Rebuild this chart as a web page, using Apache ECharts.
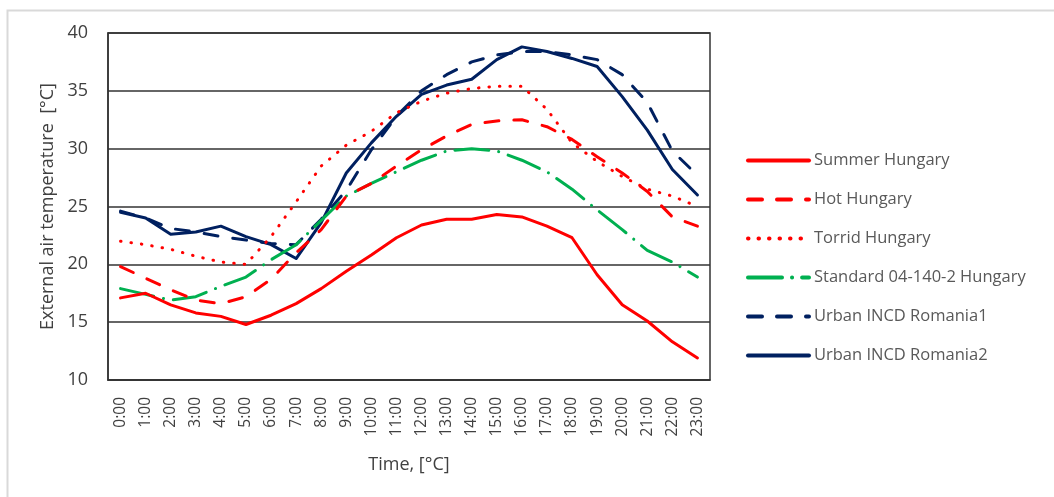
<!DOCTYPE html>
<html>
<head>
<meta charset="utf-8">
<script src="https://cdn.jsdelivr.net/npm/echarts@6/dist/echarts.min.js"></script>
<style>
html,body{margin:0;padding:0;background:#fff;}
#c{width:1054px;height:497px;}
</style>
</head>
<body>
<div id="c"></div>
<script>
var hours = ['0:00','1:00','2:00','3:00','4:00','5:00','6:00','7:00','8:00','9:00','10:00','11:00','12:00','13:00','14:00','15:00','16:00','17:00','18:00','19:00','20:00','21:00','22:00','23:00'];
var summerHungary = [17.1,17.5,16.5,15.8,15.5,14.8,15.6,16.6,17.9,19.4,20.8,22.3,23.4,23.9,23.9,24.3,24.1,23.3,22.3,19.1,16.5,15.1,13.3,11.9];
var hotHungary = [19.8,18.8,17.8,16.9,16.6,17.2,18.7,21.0,23.0,25.9,27.0,28.5,29.9,31.1,32.1,32.4,32.5,31.9,30.8,29.3,27.9,26.3,24.1,23.3];
var torridHungary = [22.0,21.7,21.3,20.7,20.2,20.0,22.4,25.4,28.5,30.3,31.5,33.1,34.1,34.8,35.2,35.4,35.4,33.4,30.5,28.9,27.6,26.5,25.9,25.0];
var standardHungary = [17.9,17.4,16.9,17.2,18.1,18.9,20.4,21.7,23.8,25.9,27.0,28.0,29.0,29.8,30.0,29.8,29.0,28.0,26.5,24.7,23.0,21.2,20.2,18.9];
var urbanRomania1 = [24.6,24.0,23.1,22.8,22.4,22.1,21.8,21.7,23.9,26.4,29.9,32.8,35.0,36.4,37.5,38.1,38.4,38.4,38.1,37.7,36.4,34.0,29.8,27.7];
var urbanRomania2 = [24.5,24.0,22.6,22.8,23.3,22.4,21.7,20.5,23.6,27.9,30.5,32.8,34.7,35.5,36.0,37.7,38.8,38.4,37.8,37.1,34.5,31.6,28.2,26.0];

var seriesNames = ['Summer Hungary','Hot Hungary','Torrid Hungary','Standard 04-140-2 Hungary','Urban INCD Romania1','Urban INCD Romania2'];
var seriesData = [summerHungary, hotHungary, torridHungary, standardHungary, urbanRomania1, urbanRomania2];
var seriesColors = ['#ff0000','#ff0000','#ff0000','#00b050','#002060','#002060'];
var seriesDash = ['solid',[14,15],[0.5,10],[34,10,0.1,10],[14,15],'solid'];

var font = '"Open Sans", Lato, sans-serif';
var chart = echarts.init(document.getElementById('c'), null, {renderer:'canvas'});
var series = seriesNames.map(function(n, i){
  return {
    name: n,
    type: 'line',
    data: seriesData[i],
    symbol: 'none',
    smooth: false,
    lineStyle: {color: seriesColors[i], width: 3, type: seriesDash[i], cap: 'round', join: 'round'},
    itemStyle: {color: seriesColors[i]},
    z: 10 - i
  };
});
chart.setOption({
  animation: false,
  textStyle: {fontFamily: font},
  graphic: [{
    type: 'rect', left: 5, top: 8, shape: {x:0, y:0, width: 1200, height: 600},
    style: {fill: 'none', stroke: '#d9d9d9', lineWidth: 2}, silent: true
  }],
  grid: {left: 108, top: 33, right: 344, bottom: 117, show: true, borderColor: '#333', borderWidth: 1.5, containLabel: false},
  legend: {
    orient: 'vertical', left: 741, top: 147,
    itemWidth: 61, itemHeight: 14, itemGap: 22,
    data: seriesNames,
    itemStyle: {opacity: 0},
    lineStyle: {width: 4, cap: 'round'},
    textStyle: {fontSize: 16.5, color: '#595959', fontFamily: font}
  },
  xAxis: {
    type: 'category', data: hours, boundaryGap: true,
    name: 'Time, [°C]', nameLocation: 'middle', nameGap: 76,
    nameTextStyle: {fontSize: 18, color: '#404040', fontFamily: font},
    axisLine: {show: true, lineStyle: {color: '#333', width: 1.5}},
    axisTick: {show: false},
    axisLabel: {rotate: 90, margin: 17, fontSize: 15.5, color: '#404040', fontFamily: font, interval: 0}
  },
  yAxis: {
    type: 'value', min: 10, max: 40, interval: 5,
    name: 'External air temperature  [°C]', nameLocation: 'middle', nameGap: 51,
    nameTextStyle: {fontSize: 18, color: '#404040', fontFamily: font},
    axisLine: {show: true, lineStyle: {color: '#333', width: 1.5}},
    axisTick: {show: false},
    axisLabel: {margin: 20, fontSize: 18, color: '#404040', fontFamily: font},
    splitLine: {show: true, lineStyle: {color: '#333', width: 1.5}}
  },
  series: series
});
</script>
</body>
</html>
